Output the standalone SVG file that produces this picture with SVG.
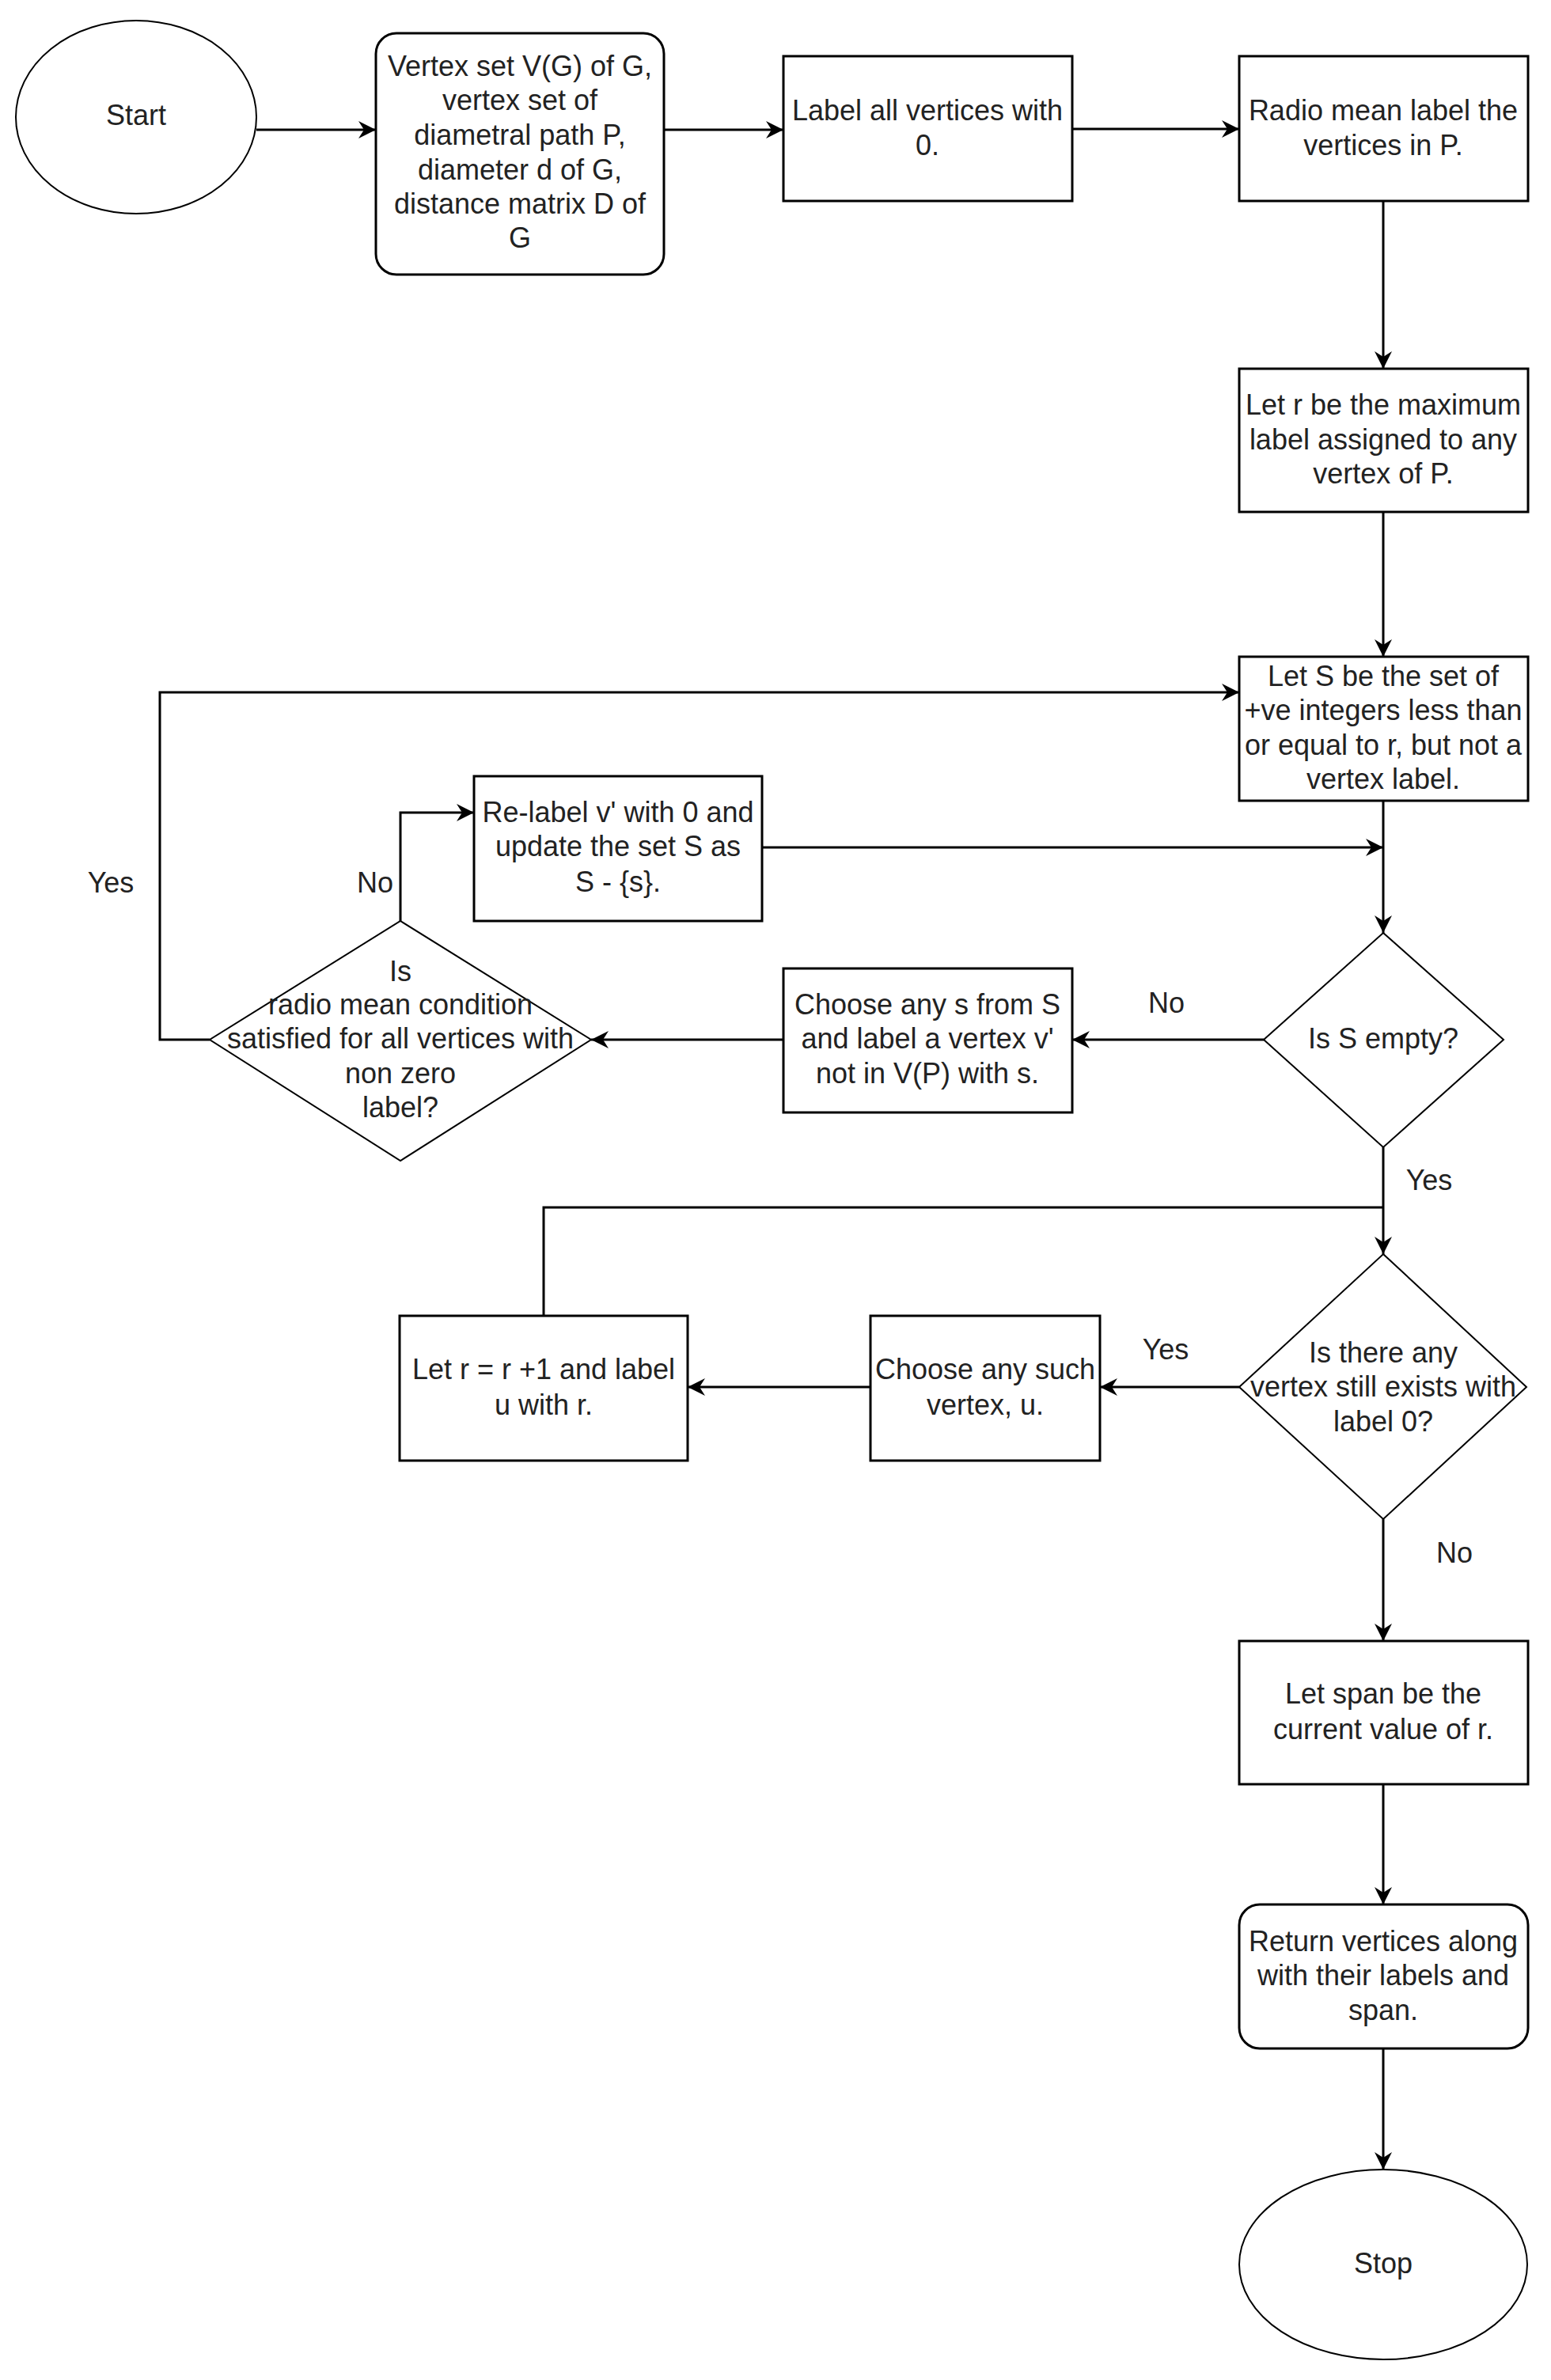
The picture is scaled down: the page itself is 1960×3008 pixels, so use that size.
<svg xmlns="http://www.w3.org/2000/svg" width="1960" height="3008" viewBox="0 0 1960 3008">
<style>
.shape{fill:#fff;stroke:#000;stroke-width:3}
.thin{fill:#fff;stroke:#000;stroke-width:2}
.conn{fill:none;stroke:#000;stroke-width:3}
text{font-family:"Liberation Sans",Arial,sans-serif;font-size:36px;fill:#222;text-anchor:middle}
</style>
<defs>
<marker id="arr" viewBox="0 0 22 22" refX="22" refY="11" markerWidth="22" markerHeight="22" markerUnits="userSpaceOnUse" orient="auto">
<path d="M0,0 L22,11 L0,22 L7,11 Z" fill="#000"/>
</marker>
</defs>
<rect width="1960" height="3008" fill="#fff"/>
<g id="connectors">
<path class="conn" d="M324,164 H475" marker-end="url(#arr)"/>
<path class="conn" d="M839,164 H990" marker-end="url(#arr)"/>
<path class="conn" d="M1355,163 H1566" marker-end="url(#arr)"/>
<path class="conn" d="M1748,254 V466" marker-end="url(#arr)"/>
<path class="conn" d="M1748,647 V830" marker-end="url(#arr)"/>
<path class="conn" d="M1748,1012 V1179" marker-end="url(#arr)"/>
<path class="conn" d="M1597,1314 H1355" marker-end="url(#arr)"/>
<path class="conn" d="M990,1314 H747" marker-end="url(#arr)"/>
<path class="conn" d="M265,1314 H202 V875 H1566" marker-end="url(#arr)"/>
<path class="conn" d="M506,1164 V1027 H599" marker-end="url(#arr)"/>
<path class="conn" d="M963,1071 H1748" marker-end="url(#arr)"/>
<path class="conn" d="M1748,1450 V1585" marker-end="url(#arr)"/>
<path class="conn" d="M1566,1753 H1390" marker-end="url(#arr)"/>
<path class="conn" d="M1100,1753 H869" marker-end="url(#arr)"/>
<path class="conn" d="M687,1663 V1526 H1748"/>
<path class="conn" d="M1748,1920 V2074" marker-end="url(#arr)"/>
<path class="conn" d="M1748,2255 V2407" marker-end="url(#arr)"/>
<path class="conn" d="M1748,2589 V2742" marker-end="url(#arr)"/>
<text x="140" y="1128">Yes</text>
<text x="474" y="1128">No</text>
<text x="1474" y="1280">No</text>
<text x="1806" y="1504">Yes</text>
<text x="1473" y="1718">Yes</text>
<text x="1838" y="1975">No</text>
</g>
<g id="start">
<ellipse class="thin" cx="172" cy="148" rx="152" ry="122"/>
<text x="172" y="158">Start</text>
</g>
<g id="input">
<rect class="shape" x="475" y="42" width="364" height="305" rx="26" ry="26"/>
<text x="657" y="96">Vertex set V(G) of G,</text>
<text x="657" y="139">vertex set of</text>
<text x="657" y="183">diametral path P,</text>
<text x="657" y="227">diameter d of G,</text>
<text x="657" y="270">distance matrix D of</text>
<text x="657" y="313">G</text>
</g>
<g id="label0">
<rect class="shape" x="990" y="71" width="365" height="183"/>
<text x="1172" y="152">Label all vertices with</text>
<text x="1172" y="196">0.</text>
</g>
<g id="radio">
<rect class="shape" x="1566" y="71" width="365" height="183"/>
<text x="1748" y="152">Radio mean label the</text>
<text x="1748" y="196">vertices in P.</text>
</g>
<g id="letr">
<rect class="shape" x="1566" y="466" width="365" height="181"/>
<text x="1748" y="524">Let r be the maximum</text>
<text x="1748" y="568">label assigned to any</text>
<text x="1748" y="611">vertex of P.</text>
</g>
<g id="letS">
<rect class="shape" x="1566" y="830" width="365" height="182"/>
<text x="1748" y="867">Let S be the set of</text>
<text x="1748" y="910">+ve integers less than</text>
<text x="1748" y="954">or equal to r, but not a</text>
<text x="1748" y="997">vertex label.</text>
</g>
<g id="relabel">
<rect class="shape" x="599" y="981" width="364" height="183"/>
<text x="781" y="1039">Re-label v' with 0 and</text>
<text x="781" y="1082">update the set S as</text>
<text x="781" y="1127">S - {s}.</text>
</g>
<g id="isSempty">
<polygon class="thin" points="1748,1179 1900,1314 1748,1450 1597,1314"/>
<text x="1748" y="1325">Is S empty?</text>
</g>
<g id="chooseS">
<rect class="shape" x="990" y="1224" width="365" height="182"/>
<text x="1172" y="1282">Choose any s from S</text>
<text x="1172" y="1325">and label a vertex v'</text>
<text x="1172" y="1369">not in V(P) with s.</text>
</g>
<g id="radioCond">
<polygon class="thin" points="506,1164 747,1314 506,1467 265,1314"/>
<text x="506" y="1240">Is</text>
<text x="506" y="1282">radio mean condition</text>
<text x="506" y="1325">satisfied for all vertices with</text>
<text x="506" y="1369">non zero</text>
<text x="506" y="1412">label?</text>
</g>
<g id="anyZero">
<polygon class="thin" points="1748,1585 1929,1753 1748,1920 1566,1753"/>
<text x="1748" y="1722">Is there any</text>
<text x="1748" y="1765">vertex still exists with</text>
<text x="1748" y="1809">label 0?</text>
</g>
<g id="chooseU">
<rect class="shape" x="1100" y="1663" width="290" height="183"/>
<text x="1245" y="1743">Choose any such</text>
<text x="1245" y="1788">vertex, u.</text>
</g>
<g id="incr">
<rect class="shape" x="505" y="1663" width="364" height="183"/>
<text x="687" y="1743">Let r = r +1 and label</text>
<text x="687" y="1788">u with r.</text>
</g>
<g id="span">
<rect class="shape" x="1566" y="2074" width="365" height="181"/>
<text x="1748" y="2153">Let span be the</text>
<text x="1748" y="2198">current value of r.</text>
</g>
<g id="return">
<rect class="shape" x="1566" y="2407" width="365" height="182" rx="26" ry="26"/>
<text x="1748" y="2466">Return vertices along</text>
<text x="1748" y="2509">with their labels and</text>
<text x="1748" y="2553">span.</text>
</g>
<g id="stop">
<ellipse class="thin" cx="1748" cy="2862" rx="182" ry="120"/>
<text x="1748" y="2873">Stop</text>
</g>
</svg>
